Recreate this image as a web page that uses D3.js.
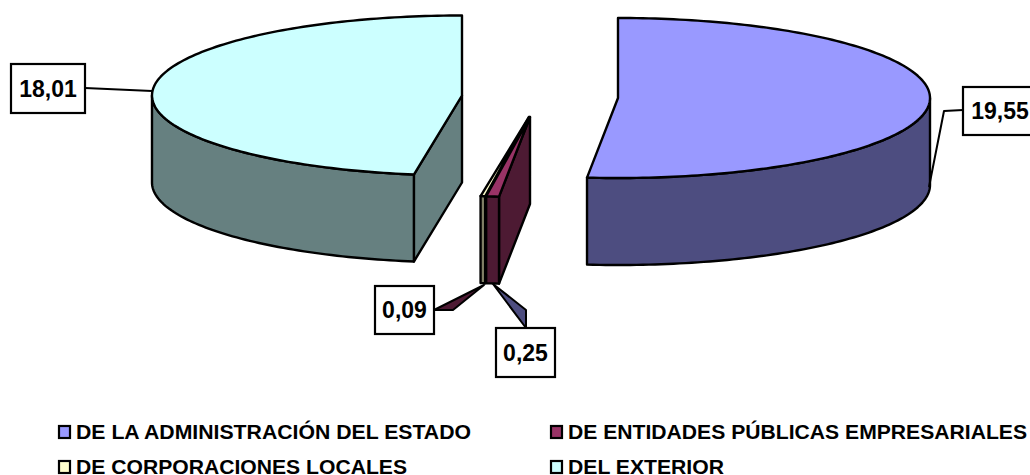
<!DOCTYPE html>
<html><head><meta charset="utf-8">
<script src="https://cdn.jsdelivr.net/npm/d3@7/dist/d3.min.js"></script>
<style>html,body{margin:0;padding:0;background:#fff;overflow:hidden}svg{display:block}text{font-family:"Liberation Sans",Arial,sans-serif;font-weight:bold;fill:#000}</style>
</head><body><svg id="c" width="1030" height="475"></svg>
<script>
const categories = ["DE LA ADMINISTRACIÓN DEL ESTADO","DE ENTIDADES PÚBLICAS EMPRESARIALES","DE CORPORACIONES LOCALES","DEL EXTERIOR"];
const values = [19.55,0.25,0.09,18.01];
const topColors = ["#9999FF","#993366","#FFFFCC","#CCFFFF"];
const sideColors = ["#4D4D80","#4D1A33","#808066","#668080"];
const centres = [[618,98],[530,117],[529,117],[462,95.5]];
const radiiX = [312,312,312,310];
const labelBoxes = [[963,87,74,48],[496,328,59,49],[375,286,59,48],[11,64,74,49]];
const leaders = [
  {pts:[[963,110],[944,111],[929,187]],fill:"none"},
  {pts:[[526,328],[526,310],[493,284]],fill:"#4D4D80",close:true},
  {pts:[[434,310],[453,310],[484,285]],fill:"#4D1A33",close:true},
  {pts:[[85,88],[152,91]],fill:"none"}
];
const legendPos = [[59,432],[551,432],[59,467],[551,467]];
const legendWidths = [395,459,331,156];
const ry=80, depth=87, TAU=Math.PI*2;
const svg=d3.select("#c");
const arcs=d3.pie().sort(null).startAngle(0).endAngle(TAU)(values);
const line=d3.line();
function samples(a,b){const n=Math.max(2,Math.ceil(Math.abs(b-a)/0.02));return d3.range(n+1).map(i=>a+(b-a)*i/n);}
function drawSlice(i){
  const d=arcs[i],c=centres[i],a=d.startAngle,b=d.endAngle,rx=radiiX[i];
  const pt=(t,dz=0)=>[c[0]+rx*Math.sin(t),c[1]-ry*Math.cos(t)+dz];
  const g=svg.append("g").attr("stroke","#000").attr("stroke-width",2.4).attr("stroke-linejoin","round");
  if(Math.sin(a)<-1e-6){
    const p=pt(a);
    g.append("path").attr("fill",sideColors[i]).attr("d",line([c,p,[p[0],p[1]+depth],[c[0],c[1]+depth]])+"Z");
  }
  const lo=Math.max(a,Math.PI/2),hi=Math.min(b,Math.PI*1.5);
  if(hi>lo){
    const s=samples(lo,hi);
    const up=s.map(t=>pt(t)),dn=s.slice().reverse().map(t=>pt(t,depth));
    g.append("path").attr("fill",sideColors[i]).attr("d",line(up.concat(dn))+"Z");
  }
  g.append("path").attr("fill",topColors[i]).attr("d",line([c].concat(samples(a,b).map(t=>pt(t))))+"Z");
}
[3,0,2,1].forEach(drawSlice);
leaders.forEach(l=>{
  svg.append("path").attr("d",line(l.pts)+(l.close?"Z":"")).attr("fill",l.fill).attr("stroke","#000").attr("stroke-width",2).attr("stroke-linejoin","round");
});
values.forEach((v,i)=>{
  const [x,y,w,h]=labelBoxes[i];
  svg.append("rect").attr("x",x).attr("y",y).attr("width",w).attr("height",h).attr("fill","#fff").attr("stroke","#000").attr("stroke-width",2.2);
  svg.append("text").attr("x",x+w/2).attr("y",y+h/2+8).attr("text-anchor","middle").attr("font-size",23).text(v.toFixed(2).replace(".",","));
});
categories.forEach((t,i)=>{
  const [x,y]=legendPos[i];
  svg.append("rect").attr("x",x).attr("y",y-6).attr("width",11).attr("height",12).attr("fill",topColors[i]).attr("stroke","#000").attr("stroke-width",2.2);
  svg.append("text").attr("x",x+17).attr("y",y+7).attr("font-size",21).attr("textLength",legendWidths[i]).attr("lengthAdjust","spacingAndGlyphs").text(t);
});
</script></body></html>
